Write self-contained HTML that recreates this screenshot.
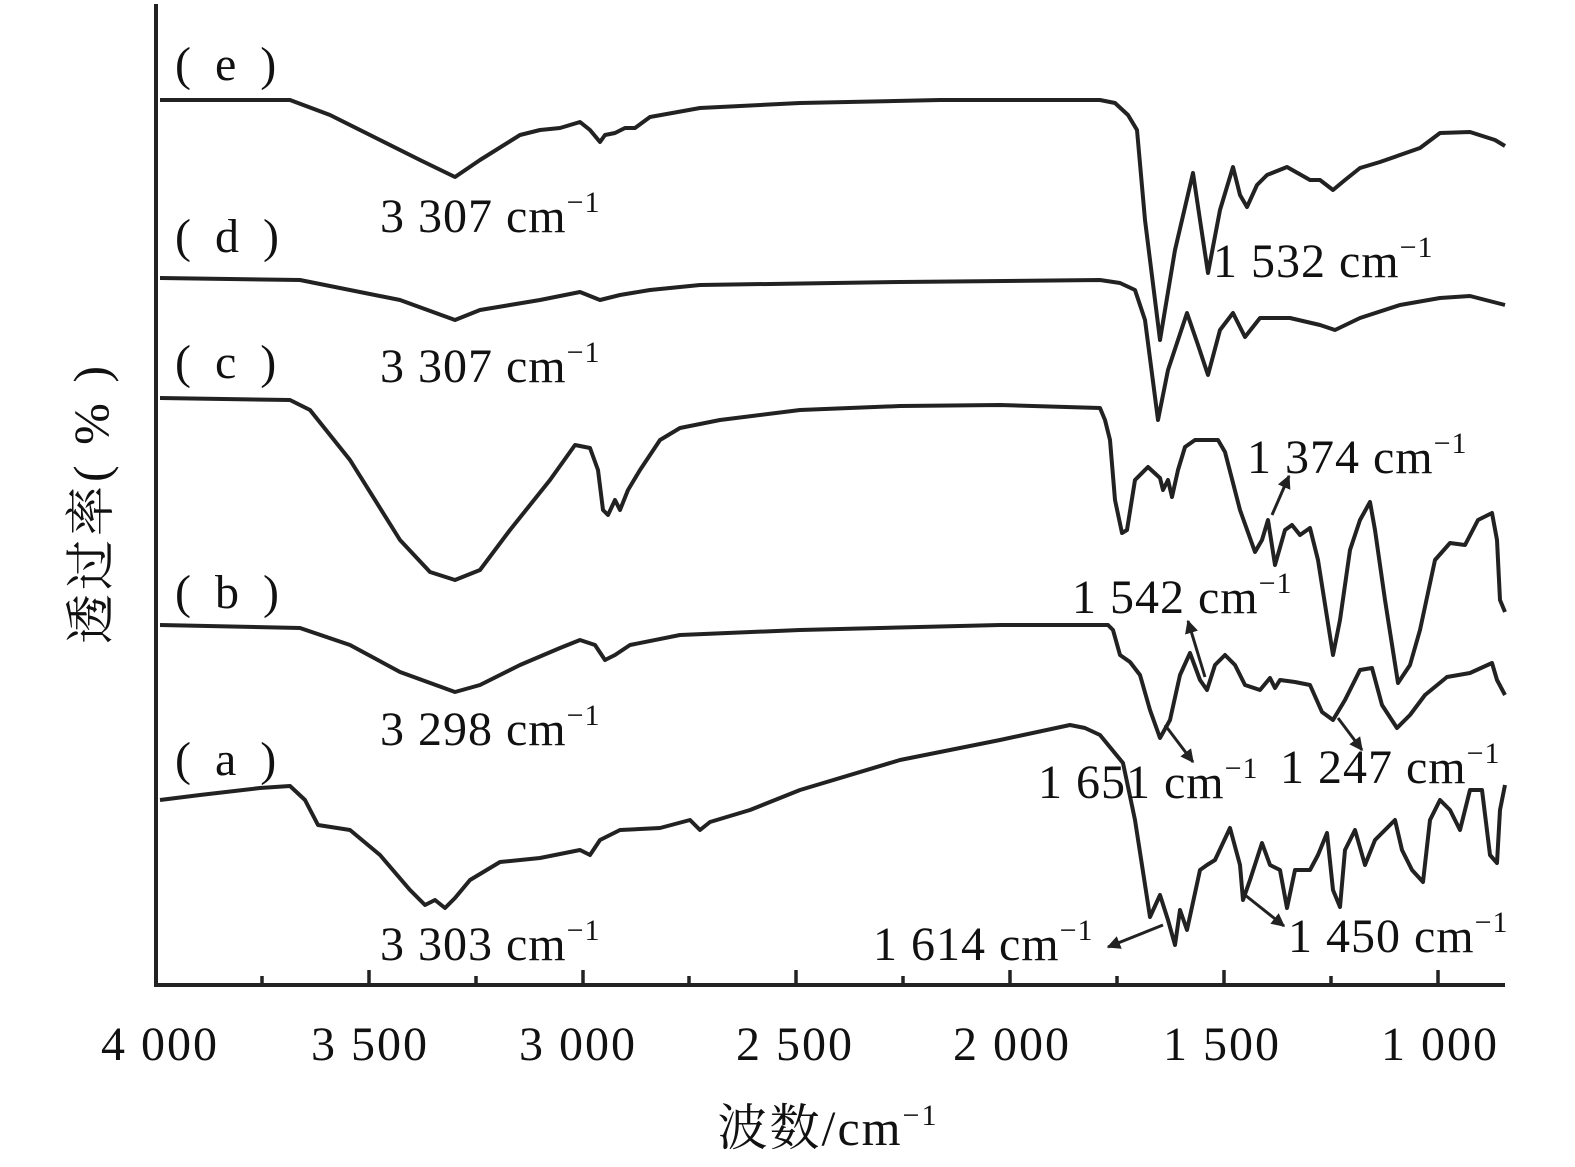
<!DOCTYPE html>
<html><head><meta charset="utf-8"><style>
body{margin:0;background:#fff}
svg text{font-family:"Liberation Serif","Noto Serif CJK SC",serif;fill:#111}
</style></head><body>
<svg width="1575" height="1162" viewBox="0 0 1575 1162" xmlns="http://www.w3.org/2000/svg">
<defs><marker id="ar" viewBox="0 0 10 10" refX="9" refY="5" markerWidth="4.5" markerHeight="4.5" orient="auto"><path d="M0,0L10,5L0,10z" fill="#222"/></marker></defs>
<g fill="none" stroke="#222" stroke-width="4" stroke-linejoin="round">
<polyline points="160,100 290,100 330,115 380,140 420,160 455,177 480,160 520,135 540,130 560,128 580,122 590,130 600,142 605,135 615,133 625,128 635,128 650,117 700,108 800,103 940,100 1100,100 1115,103 1128,115 1137,130 1145,220 1160,340 1175,250 1193,173 1200,220 1208,273 1220,210 1233,167 1240,195 1247,207 1257,185 1267,175 1287,167 1310,180 1320,180 1333,190 1345,180 1360,168 1380,162 1400,155 1420,148 1440,133 1470,132 1495,140 1505,146"/>
<polyline points="160,278 300,280 400,300 455,320 480,310 540,300 580,292 600,300 620,295 650,290 700,285 900,282 1100,280 1120,283 1135,290 1145,320 1158,420 1168,370 1187,313 1198,345 1208,375 1220,330 1233,313 1245,337 1260,318 1290,318 1320,325 1335,330 1360,318 1400,305 1440,298 1470,296 1505,305"/>
<polyline points="160,398 290,400 310,410 350,460 400,540 430,572 455,580 480,570 510,530 550,480 575,445 590,448 598,470 603,510 608,515 615,500 620,510 628,490 640,470 660,440 680,428 720,420 800,410 900,406 1000,405 1100,408 1105,420 1110,440 1115,500 1122,533 1127,530 1135,480 1148,467 1160,478 1163,490 1168,480 1172,497 1178,470 1185,447 1195,440 1210,440 1218,440 1225,452 1240,510 1255,552 1262,540 1268,520 1275,565 1285,530 1292,525 1300,535 1310,528 1318,560 1333,655 1340,620 1350,550 1360,520 1370,502 1375,530 1385,600 1398,683 1410,665 1420,630 1435,560 1450,543 1465,545 1478,520 1492,513 1497,540 1500,600 1505,612"/>
<polyline points="160,625 300,628 350,645 400,672 455,692 480,685 520,665 560,648 580,640 595,645 605,660 615,655 630,645 680,635 800,630 1000,625 1108,625 1113,630 1120,655 1130,662 1140,675 1150,710 1160,738 1170,720 1180,675 1190,653 1200,680 1207,690 1215,665 1225,655 1235,665 1245,685 1260,690 1270,678 1275,688 1280,680 1295,682 1310,685 1322,712 1333,720 1345,700 1360,670 1372,668 1382,705 1397,728 1410,715 1425,695 1447,677 1470,673 1492,663 1497,680 1505,695"/>
<polyline points="160,800 200,795 260,788 290,786 305,800 318,825 350,830 380,855 410,890 425,905 435,900 445,908 455,898 470,880 500,862 540,858 580,850 590,855 600,840 620,830 660,828 690,820 700,830 710,822 750,810 800,790 900,760 1000,740 1070,725 1085,728 1100,735 1123,763 1135,820 1150,917 1160,895 1168,920 1175,945 1180,910 1187,930 1200,870 1207,865 1215,860 1230,828 1240,865 1243,900 1250,880 1262,843 1270,865 1280,870 1287,908 1295,870 1310,870 1318,855 1327,833 1333,890 1340,907 1345,850 1355,830 1365,865 1375,840 1385,830 1395,820 1402,850 1412,870 1423,882 1430,820 1440,800 1450,810 1460,830 1470,790 1482,790 1490,855 1497,863 1500,810 1505,785"/>
</g>
<g stroke="#222" stroke-width="3" marker-end="url(#ar)">
<line x1="1272" y1="515" x2="1289" y2="476"/>
<line x1="1205" y1="677" x2="1188" y2="621"/>
<line x1="1165" y1="725" x2="1193" y2="762"/>
<line x1="1338" y1="718" x2="1362" y2="750"/>
<line x1="1163" y1="925" x2="1108" y2="947"/>
<line x1="1245" y1="895" x2="1284" y2="926"/>
</g>
<g stroke="#222">
<line x1="156" y1="4" x2="156" y2="987" stroke-width="4"/>
<line x1="154" y1="985" x2="1505" y2="985" stroke-width="4"/>
<g stroke-width="3.5">
<line x1="369" y1="985" x2="369" y2="970"/><line x1="583" y1="985" x2="583" y2="970"/><line x1="796" y1="985" x2="796" y2="970"/><line x1="1010" y1="985" x2="1010" y2="970"/><line x1="1224" y1="985" x2="1224" y2="970"/><line x1="1438" y1="985" x2="1438" y2="970"/>
<line x1="262" y1="985" x2="262" y2="976"/><line x1="476" y1="985" x2="476" y2="976"/><line x1="689" y1="985" x2="689" y2="976"/><line x1="903" y1="985" x2="903" y2="976"/><line x1="1117" y1="985" x2="1117" y2="976"/><line x1="1331" y1="985" x2="1331" y2="976"/>
</g></g>
<g font-size="48" text-anchor="middle" letter-spacing="2">
<text x="160" y="1060">4 000</text><text x="370" y="1060">3 500</text><text x="578" y="1060">3 000</text><text x="795" y="1060">2 500</text><text x="1012" y="1060">2 000</text><text x="1222" y="1060">1 500</text><text x="1440" y="1060">1 000</text>
<text x="828" y="1145" font-size="50">波数/cm<tspan font-size="30" dy="-20">−1</tspan></text>
<text transform="translate(108,503) rotate(-90)" font-size="50" letter-spacing="4">透过率( % )</text>
</g>
<g font-size="48" letter-spacing="1">
<text x="175" y="80" letter-spacing="6">( e )</text><text x="175" y="252" letter-spacing="6">( d )</text><text x="175" y="378" letter-spacing="6">( c )</text><text x="175" y="608" letter-spacing="6">( b )</text><text x="175" y="775" letter-spacing="6">( a )</text>
<text x="380" y="232">3 307 cm<tspan font-size="30" dy="-20">−1</tspan></text>
<text x="380" y="382">3 307 cm<tspan font-size="30" dy="-20">−1</tspan></text>
<text x="380" y="745">3 298 cm<tspan font-size="30" dy="-20">−1</tspan></text>
<text x="380" y="960">3 303 cm<tspan font-size="30" dy="-20">−1</tspan></text>
<text x="1213" y="277">1 532 cm<tspan font-size="30" dy="-20">−1</tspan></text>
<text x="1247" y="473">1 374 cm<tspan font-size="30" dy="-20">−1</tspan></text>
<text x="1072" y="613">1 542 cm<tspan font-size="30" dy="-20">−1</tspan></text>
<text x="1038" y="798">1 651 cm<tspan font-size="30" dy="-20">−1</tspan></text>
<text x="1280" y="783">1 247 cm<tspan font-size="30" dy="-20">−1</tspan></text>
<text x="873" y="960">1 614 cm<tspan font-size="30" dy="-20">−1</tspan></text>
<text x="1288" y="952">1 450 cm<tspan font-size="30" dy="-20">−1</tspan></text>
</g>
</svg>
</body></html>
